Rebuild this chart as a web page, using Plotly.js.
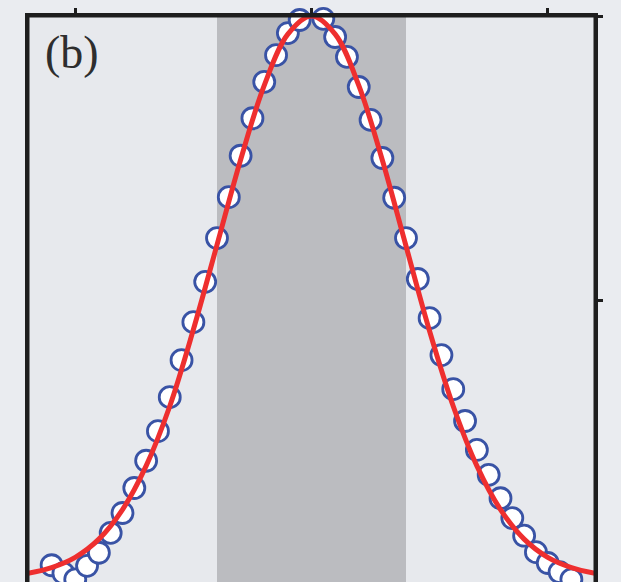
<!DOCTYPE html>
<html>
<head>
<meta charset="utf-8">
<script src="https://cdn.plot.ly/plotly-3.0.1.min.js"></script>
<style>
html,body{margin:0;padding:0;overflow:hidden;background:#eaecf0;}
#chart{width:621px;height:600px;}
</style>
</head>
<body>
<div id="chart"></div>
<script>
// Measured points (open circles)
var dataX = [-1.10,-1.05,-1.00,-0.95,-0.90,-0.85,-0.80,-0.75,-0.70,-0.65,-0.60,-0.55,-0.50,-0.45,-0.40,-0.35,-0.30,-0.25,-0.20,-0.15,-0.10,-0.05,0.00,
             0.05,0.10,0.15,0.20,0.25,0.30,0.35,0.40,0.45,0.50,0.55,0.60,0.65,0.70,0.75,0.80,0.85,0.90,0.95,1.00,1.05,1.10];
var dataY = [0.033,0.019,0.008,0.032,0.055,0.090,0.125,0.169,0.217,0.269,0.329,0.394,0.461,0.532,0.609,0.681,0.754,0.820,0.884,0.931,0.970,0.993,1.005,
             0.995,0.963,0.928,0.875,0.817,0.750,0.680,0.609,0.537,0.468,0.403,0.343,0.287,0.236,0.192,0.151,0.116,0.085,0.056,0.037,0.021,0.008];
// Fitted curve (red)
var fitX = [-1.2,-1.1,-1.0,-0.9,-0.8,-0.7,-0.6,-0.5,-0.4,-0.3,-0.2,-0.1,0.0,0.1,0.2,0.3,0.4,0.5,0.6,0.7,0.8,0.9,1.0,1.1,1.2];
var fitY = [0.019,0.029,0.047,0.079,0.131,0.208,0.313,0.448,0.597,0.747,0.878,0.968,1.000,0.968,0.878,0.746,0.595,0.445,0.313,0.208,0.131,0.079,0.047,0.029,0.019];
// Shaded band
var bandX = [-0.40, 0.40];
var xTicks = [-1, 0, 1];
var yTicks = [0, 0.5, 1];
var panelLabel = "(b)";

var traces = [
  {x: dataX, y: dataY, type: 'scatter', mode: 'markers', cliponaxis: false,
   marker: {symbol: 'circle', size: 21, color: '#ffffff', line: {color: '#3953a5', width: 2.8}},
   hoverinfo: 'skip', showlegend: false},
  {x: fitX, y: fitY, type: 'scatter', mode: 'lines', cliponaxis: false,
   line: {color: '#ee2f2f', width: 5, shape: 'spline', smoothing: 1},
   hoverinfo: 'skip', showlegend: false}
];

var layout = {
  width: 621, height: 600,
  margin: {l: 28, r: 26, t: 16, b: 16, pad: 0},
  paper_bgcolor: '#eaecf0',
  plot_bgcolor: '#e7e9ed',
  showlegend: false,
  xaxis: {range: [-1.2, 1.2], side: 'top', showgrid: false, zeroline: false,
          showline: true, linecolor: '#1e1e1e', linewidth: 3, mirror: true,
          ticks: 'outside', tickvals: xTicks, ticklen: 5, tickwidth: 3, tickcolor: '#1e1e1e',
          showticklabels: false, fixedrange: true, layer: 'above traces'},
  yaxis: {range: [0, 1], side: 'right', showgrid: false, zeroline: false,
          showline: true, linecolor: '#1e1e1e', linewidth: 3, mirror: true,
          ticks: 'outside', tickvals: yTicks, ticklen: 5, tickwidth: 3, tickcolor: '#1e1e1e',
          showticklabels: false, fixedrange: true, layer: 'above traces'},
  shapes: [
    {type: 'rect', xref: 'x', yref: 'paper', x0: bandX[0], x1: bandX[1], y0: 0, y1: 1,
     fillcolor: '#bbbcc0', line: {width: 0}, layer: 'below'},
    {type: 'rect', xref: 'paper', yref: 'paper', x0: 0, x1: 1, y0: 0, y1: 1,
     fillcolor: 'rgba(0,0,0,0)', line: {color: '#1e1e1e', width: 3}, layer: 'above'}
  ],
  annotations: [
    {text: panelLabel, xref: 'paper', yref: 'paper', x: 0.026, y: 0.936,
     xanchor: 'left', yanchor: 'middle', showarrow: false,
     font: {family: 'Liberation Serif, DejaVu Serif, serif', size: 46, color: '#2e2e2e'}}
  ]
};

Plotly.newPlot('chart', traces, layout, {staticPlot: true, displayModeBar: false});
</script>
</body>
</html>
